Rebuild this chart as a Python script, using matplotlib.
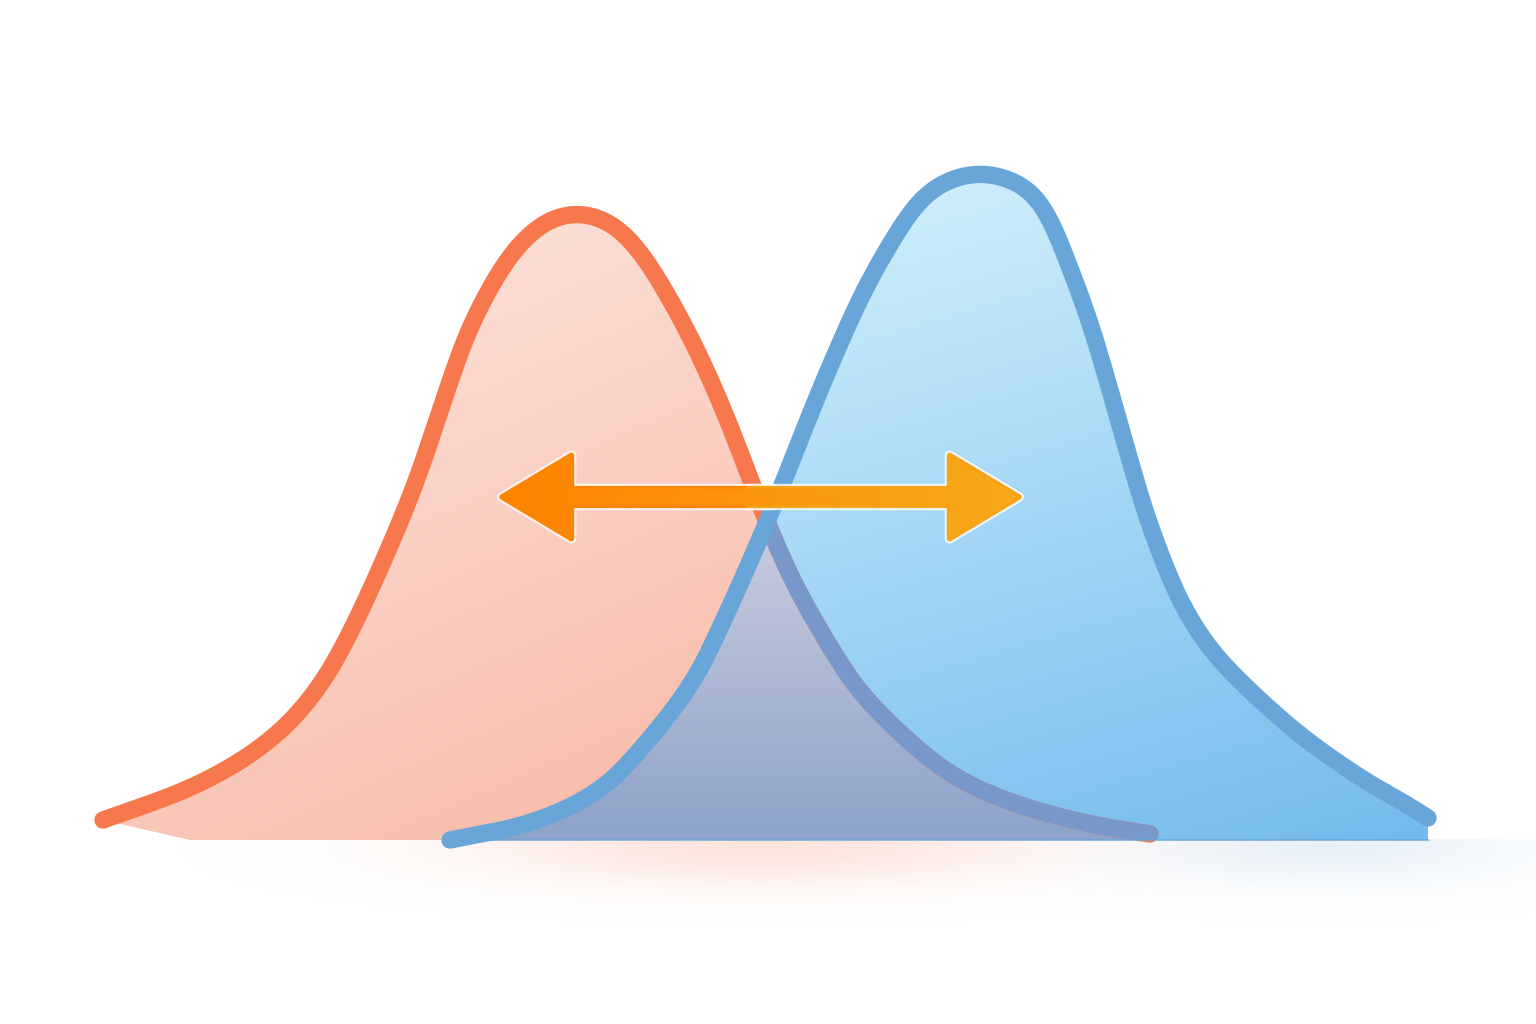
"""
Two overlapping bell curves with a double-headed arrow between them.
"""

import numpy as np
import matplotlib.pyplot as plt
from matplotlib.path import Path
from matplotlib.patches import PathPatch, FancyArrowPatch

# Outline of the left (red) curve: x position and height above the baseline
red_x = [103, 190, 257, 307, 350, 409, 447, 472, 509, 544, 577, 612, 644,
         683, 715, 742, 764, 794, 832, 867, 940, 1005, 1085, 1150]
red_h = [20, 52, 90, 137, 207, 340, 450, 517, 583, 618, 628, 617, 583,
         517, 450, 383, 325, 257, 190, 140, 73, 40, 17, 6]

# Outline of the right (blue) curve
blue_x = [450, 530, 597, 640, 692, 725, 755, 783, 809, 837, 868, 907, 930,
          955, 980, 1005, 1030, 1048, 1063, 1088, 1108, 1127, 1147, 1172, 1189,
          1211, 1242, 1300, 1367, 1400, 1428]
blue_h = [0, 17, 48, 90, 157, 223, 290, 357, 423, 490, 557, 623, 650,
          663, 668, 663, 651, 625, 590, 523, 457, 390, 323, 257, 223,
          190, 157, 105, 58, 40, 22]

# Double arrow: ends and height
arrow_x = [502, 1019]
arrow_h = 343

RED_LINE = '#f7784c'
RED_UNDER = '#7898cc'
BLUE_LINE = '#68a6d9'
LW = 12.5

XMIN, XMAX = 0, 1536
YMIN, YMAX = -184, 840


def smooth_curve(xs, ys, step=2.0, sigma=18.0):
    """Dense, smoothed polyline through the read points (Catmull-Rom, then a light blur)."""
    p = np.column_stack([xs, ys]).astype(float)
    pts = np.vstack([2 * p[0] - p[1], p, 2 * p[-1] - p[-2]])
    t = np.linspace(0, 1, 40)[:, None]
    out = [p[:1]]
    for i in range(1, len(pts) - 2):
        p0, p1, p2, p3 = pts[i - 1], pts[i], pts[i + 1], pts[i + 2]
        c1 = p1 + (p2 - p0) / 6.0
        c2 = p2 - (p3 - p1) / 6.0
        seg = ((1 - t) ** 3) * p1 + 3 * ((1 - t) ** 2) * t * c1 + 3 * (1 - t) * t ** 2 * c2 + t ** 3 * p2
        out.append(seg[1:])
    c = np.vstack(out)
    # even spacing along the curve, then blur to hide reading noise
    s = np.concatenate([[0], np.cumsum(np.hypot(*np.diff(c, axis=0).T))])
    su = np.arange(0, s[-1], step)
    c = np.column_stack([np.interp(su, s, c[:, 0]), np.interp(su, s, c[:, 1])])
    k = np.arange(-int(3 * sigma / step), int(3 * sigma / step) + 1) * step
    k = np.exp(-0.5 * (k / sigma) ** 2)
    k /= k.sum()
    pad = len(k) // 2
    cp = np.vstack([np.repeat(c[:1], pad, 0), c, np.repeat(c[-1:], pad, 0)])
    sm = np.column_stack([np.convolve(cp[:, 0], k, 'valid'), np.convolve(cp[:, 1], k, 'valid')])
    sm[0], sm[-1] = p[0], p[-1]
    return sm


def hex2rgb(c):
    c = c.lstrip('#')
    return np.array([int(c[i:i + 2], 16) for i in (0, 2, 4)]) / 255.0


def blend(c0, c1, t):
    c0, c1 = hex2rgb(c0), hex2rgb(c1)
    return c0 + (c1 - c0) * np.clip(t, 0, 1)[..., None]


fig = plt.figure(figsize=(15.36, 10.24), dpi=100)
ax = fig.add_axes([0, 0, 1, 1])
ax.set_xlim(XMIN, XMAX)
ax.set_ylim(YMIN, YMAX)
ax.axis('off')

# grid for the gradients
gx = np.linspace(XMIN, XMAX, 768)
gy = np.linspace(YMIN, YMAX, 512)
X, Y = np.meshgrid(gx, gy)
ext = (XMIN, XMAX, YMIN, YMAX)

# soft glow on the ground
below = (Y < 0).astype(float)
red_glow = np.exp(-((X - 760) / 280) ** 2 - ((Y + 8) / 38) ** 2) * below
blue_glow = np.exp(-((X - 1330) / 190) ** 2 - ((Y + 8) / 38) ** 2) * below
glow = np.ones(X.shape + (4,))
glow[..., :3] = (red_glow[..., None] * hex2rgb('#f8a489') + blue_glow[..., None] * hex2rgb('#a9cbe9')) \
    / np.maximum(red_glow + blue_glow, 1e-6)[..., None]
glow[..., 3] = np.clip(0.30 * red_glow + 0.25 * blue_glow, 0, 1)
ax.imshow(glow, extent=ext, origin='lower', aspect='auto', zorder=0, interpolation='bilinear')

red_c = smooth_curve(red_x, red_h)
blue_c = smooth_curve(blue_x, blue_h)
red_line = Path(red_c)
blue_line = Path(blue_c)
# the red tail closes on a slant, like a teardrop tip
red_fill = Path(np.vstack([red_c, [(red_x[-1], 0), (red_x[1], 0), red_c[0]]]), closed=True)
blue_fill = Path(np.vstack([blue_c, [(blue_x[-1], 0), (blue_x[0], 0), blue_c[0]]]), closed=True)

red_patch = PathPatch(red_fill, facecolor='none', edgecolor='none')
blue_patch = PathPatch(blue_fill, facecolor='none', edgecolor='none')
ax.add_patch(red_patch)
ax.add_patch(blue_patch)

# red body: light at the top, deeper toward the bottom right
red_top = max(red_h)
red_mid = red_x[red_h.index(red_top)]
tv = (red_top - Y) / red_top
th = (X - red_x[0]) / (2 * (red_mid - red_x[0]))
img = ax.imshow(blend('#fde9e2', '#f7b19d', 0.6 * tv + 0.4 * th), extent=ext,
                origin='lower', aspect='auto', zorder=1)
img.set_clip_path(red_patch)

# blue body
blue_top = max(blue_h)
blue_mid = blue_x[blue_h.index(blue_top)]
tv = (blue_top - Y) / blue_top
th = (X - (2 * blue_mid - blue_x[-1])) / (2 * (blue_x[-1] - blue_mid))
img = ax.imshow(blend('#dcf6fd', '#72bbee', 0.72 * tv + 0.28 * th), extent=ext,
                origin='lower', aspect='auto', zorder=2)
img.set_clip_path(blue_patch)

# overlap of the two bodies
inside_blue = blue_fill.contains_points(np.column_stack([X.ravel(), Y.ravel()])).reshape(X.shape)
tv = (330 - Y) / 330
ov = np.ones(X.shape + (4,))
ov[..., :3] = blend('#cdcde0', '#8da3c9', tv)
ov[..., 3] = inside_blue
img = ax.imshow(ov, extent=ext, origin='lower', aspect='auto', zorder=3, interpolation='nearest')
img.set_clip_path(red_patch)

# outlines
ax.add_patch(PathPatch(red_line, facecolor='none', edgecolor=RED_LINE, lw=LW,
                       capstyle='round', joinstyle='round', zorder=5))
under = PathPatch(red_line, facecolor='none', edgecolor=RED_UNDER, lw=LW,
                  capstyle='round', joinstyle='round', zorder=6)
ax.add_patch(under)
under.set_clip_path(blue_patch)
ax.plot([blue_x[0], blue_x[-1]], [0, 0], color=BLUE_LINE, lw=1.5, alpha=0.7, zorder=6)
ax.add_patch(PathPatch(blue_line, facecolor='none', edgecolor=BLUE_LINE, lw=LW,
                       capstyle='round', joinstyle='round', zorder=7))

# double arrow drawn as two halves from the middle outward (overlapping a little)
mid = (arrow_x[0] + arrow_x[1]) / 2
tx = (gx - arrow_x[0]) / (arrow_x[1] - arrow_x[0])
arr_img = np.repeat(blend('#ff8300', '#f7a919', tx)[None, :, :], 8, axis=0)
style = 'simple,head_length=0.50,head_width=0.60,tail_width=0.12'
for end, start in zip(arrow_x, [mid + 12, mid - 12]):
    halo = FancyArrowPatch((start, arrow_h), (end, arrow_h), arrowstyle=style,
                           mutation_scale=100, shrinkA=0, shrinkB=0,
                           facecolor='white', edgecolor='white', lw=7, alpha=0.8,
                           joinstyle='round', zorder=9)
    ax.add_patch(halo)
for end, start, edge in zip(arrow_x, [mid + 12, mid - 12], ['#ff8501', '#f4a31a']):
    arrow = FancyArrowPatch((start, arrow_h), (end, arrow_h), arrowstyle=style,
                            mutation_scale=100, shrinkA=0, shrinkB=0,
                            facecolor=edge, edgecolor=edge, lw=4,
                            joinstyle='round', zorder=10)
    ax.add_patch(arrow)
    img = ax.imshow(arr_img, extent=(XMIN, XMAX, arrow_h - 60, arrow_h + 60),
                    origin='lower', aspect='auto', zorder=11)
    img.set_clip_path(arrow)

ax.set_xlim(XMIN, XMAX)
ax.set_ylim(YMIN, YMAX)
fig.savefig('out.png', dpi=100, facecolor='white')
